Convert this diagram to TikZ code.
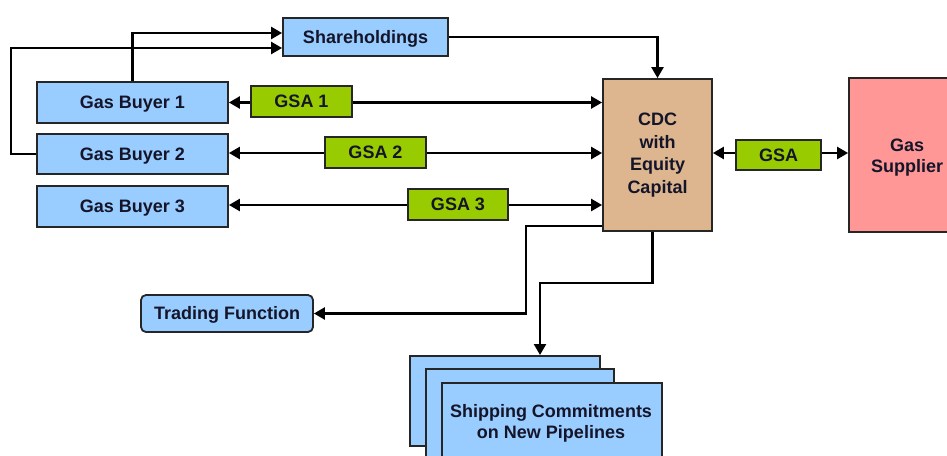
\documentclass[tikz,border=0pt]{standalone}
\usepackage{fontspec}
\setmainfont{Liberation Sans}
\usetikzlibrary{arrows.meta}
\definecolor{bluefill}{HTML}{99CCFF}
\definecolor{greenfill}{HTML}{99CC00}
\definecolor{tanfill}{HTML}{DDB58E}
\definecolor{pinkfill}{HTML}{FF9797}
\definecolor{txt}{HTML}{15152A}
\tikzset{
  box/.style={draw=black!85, line width=1.8pt, fill=bluefill, inner sep=0pt, font=\fontsize{18}{20}\selectfont\bfseries, text=txt, align=center},
  oneline/.style={text height=12.4pt, text depth=0pt},
  gsabox/.style={box, oneline, fill=greenfill},
  conn/.style={line width=2.4pt, black},
  tip/.style={-{Triangle[length=11pt,width=12pt]}},
  dtip/.style={{Triangle[length=11pt,width=12pt]}-{Triangle[length=11pt,width=12pt]}},
  lbl/.style={font=\fontsize{18}{21}\selectfont\bfseries, text=txt, align=center},
}
\begin{document}
\begin{tikzpicture}[x=1pt,y=-1pt]
\useasboundingbox (0,0) rectangle (947,455);
\clip (0,0) rectangle (947,455);
% nodes
\node[box, oneline, minimum width=165pt, minimum height=38pt] (sh) at (365.5,37) {Shareholdings};
\node[box, oneline, minimum width=191pt, minimum height=41pt] (b1) at (132.5,102.5) {Gas Buyer 1};
\node[box, oneline, minimum width=191pt, minimum height=40pt] (b2) at (132.5,154) {Gas Buyer 2};
\node[box, oneline, minimum width=191pt, minimum height=41pt] (b3) at (132.5,206.5) {Gas Buyer 3};
\node[box, fill=tanfill, minimum width=109pt, minimum height=152pt, text width=100pt, font=\fontsize{18}{22.5}\selectfont\bfseries] (cdc) at (657.5,155) {CDC\\with\\Equity\\Capital};
\node[box, fill=pinkfill, minimum width=116pt, minimum height=154pt] (sup) at (907,155) {};
\node[lbl] (suptext) at (907,158) {Gas\\Supplier};
\node[box, oneline, rounded corners=5pt, minimum width=172pt, minimum height=37pt] (tf) at (227,313.5) {Trading Function};
% stacked boxes
\node[box, minimum width=190pt, minimum height=90pt, anchor=north west] (s1) at (409,355) {};
\node[box, minimum width=188pt, minimum height=90pt, anchor=north west] (s2) at (425,368) {};
\node[box, minimum width=220pt, minimum height=90pt, anchor=north west] (s3) at (441,382) {};
\node[lbl] (stext) at (551,423.5) {Shipping Commitments\\on New Pipelines};
% coordinates
\coordinate (l2) at (11,154);
\coordinate (tfc) at (526,313.5);
\coordinate (shc) at (540,283);
% connectors
\draw[conn, tip] (b1.north) |- ([yshift=4pt]sh.west);
\draw[conn, tip] (b2.west) -- (l2) |- ([yshift=-11pt]sh.west);
\draw[conn, tip] (sh.east) -| (cdc.north);
\draw[conn, dtip] (b1.east) -- (b1.east -| cdc.west);
\draw[conn, dtip] ([yshift=1pt]b2.east) -- ([yshift=1pt]b2.east -| cdc.west);
\draw[conn, dtip] ([yshift=1.5pt]b3.east) -- ([yshift=1.5pt]b3.east -| cdc.west);
\draw[conn, dtip] ([yshift=2pt]cdc.east) -- ([yshift=2pt]sup.west);
\draw[conn, tip] ([yshift=6pt]cdc.south west) -| (tfc) -- (tf.east);
\draw[conn, tip] ([xshift=-5pt]cdc.south) |- (shc) -- (shc |- s1.north);
% GSA boxes on top of lines
\node[gsabox, minimum width=101pt, minimum height=31pt] (g1) at (301.5,101.5) {GSA 1};
\node[gsabox, minimum width=101pt, minimum height=31pt] (g2) at (375.5,152.5) {GSA 2};
\node[gsabox, minimum width=100pt, minimum height=31pt] (g3) at (458,204.5) {GSA 3};
\node[gsabox, minimum width=85pt, minimum height=30pt] (g) at (778.5,155) {GSA};
\end{tikzpicture}
\end{document}
